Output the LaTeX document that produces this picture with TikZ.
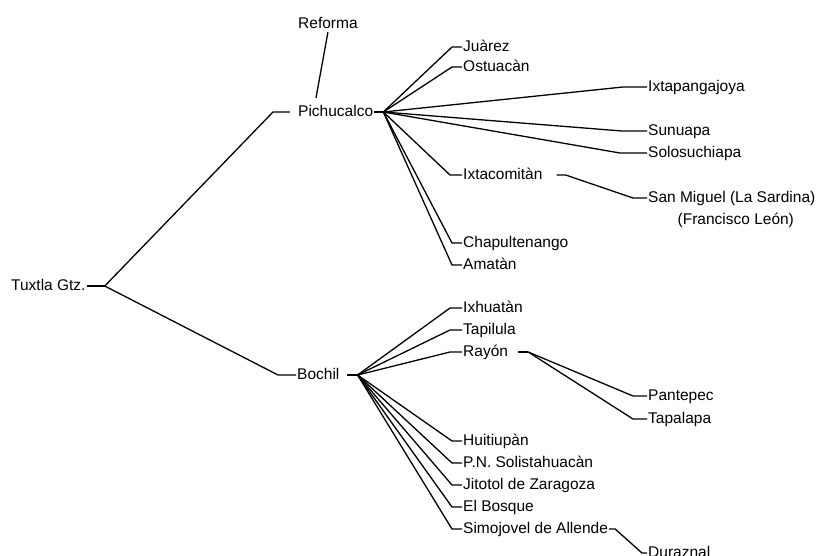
\documentclass[tikz,border=0pt]{standalone}
\usepackage{fontspec}
\setmainfont{Liberation Sans}
\begin{document}
\begin{tikzpicture}[x=1pt,y=-1pt,
  lbl/.style={anchor=west,inner sep=1pt,text height=11pt,text depth=3pt,font=\fontsize{15.5}{18}\selectfont},
  edge/.style={line width=1.3pt,line join=round}]
\useasboundingbox[fill=white] (0,0) rectangle (822,555);
% root
\node[lbl] (tux) at (10,286) {Tuxtla Gtz.};
% level 1
\node[lbl] (pic) at (297,112) {Pichucalco};
\node[lbl] (boc) at (296,375) {Bochil};
\node[lbl] (ref) at (297,24) {Reforma};
% children of Pichucalco
\node[lbl] (jua) at (462,47) {Juàrez};
\node[lbl] (ost) at (462,67) {Ostuacàn};
\node[lbl] (ixp) at (647,87) {Ixtapangajoya};
\node[lbl] (sun) at (647,131) {Sunuapa};
\node[lbl] (sol) at (647,153) {Solosuchiapa};
\node[lbl] (ixc) at (462,175) {Ixtacomitàn};
\node[lbl] (smg) at (647,198) {San Miguel (La Sardina)};
\node[lbl,anchor=north] (smg2) at ([xshift=4pt,yshift=-6pt]smg.south) {(Francisco León)};
\node[lbl] (cha) at (462,243) {Chapultenango};
\node[lbl] (ama) at (462,265) {Amatàn};
% children of Bochil
\node[lbl] (ixh) at (462,308) {Ixhuatàn};
\node[lbl] (tap) at (462,330) {Tapilula};
\node[lbl] (ray) at (462,352) {Rayón};
\node[lbl] (pan) at (647,396) {Pantepec};
\node[lbl] (tpl) at (647,419) {Tapalapa};
\node[lbl] (hui) at (462,441) {Huitiupàn};
\node[lbl] (pns) at (462,463) {P.N. Solistahuacàn};
\node[lbl] (jit) at (462,485) {Jitotol de Zaragoza};
\node[lbl] (elb) at (462,507) {El Bosque};
\node[lbl] (sim) at (462,529) {Simojovel de Allende};
\node[lbl] (dur) at (647,553) {Duraznal};
% fork points
\coordinate (tuxF) at ([xshift=18pt]tux.east);
\coordinate (picF) at ([xshift=9pt]pic.east);
\coordinate (bocF) at ([xshift=17pt]boc.east);
\coordinate (ixcF) at ([xshift=22pt]ixc.east);
\coordinate (rayF) at ([xshift=19pt]ray.east);
\coordinate (simF) at ([xshift=6pt]sim.east);
% root edges
\draw[edge] (tux.east) -- (tuxF);
\draw[edge] (tuxF) -- ([xshift=-24pt]pic.west) -- ([xshift=-7pt]pic.west);
\draw[edge] (tuxF) -- ([xshift=-18pt]boc.west) -- (boc.west);
\draw[edge] (ref.south) -- ([xshift=19pt,yshift=6pt]pic.north west);
% Pichucalco fan
\draw[edge] (pic.east) -- (picF);
\draw[edge] (picF) -- ([xshift=-10pt]jua.west) -- (jua.west);
\draw[edge] (picF) -- ([xshift=-10pt]ost.west) -- (ost.west);
\draw[edge] (picF) -- ([xshift=-24pt]ixp.west) -- (ixp.west);
\draw[edge] (picF) -- ([xshift=-25pt]sun.west) -- (sun.west);
\draw[edge] (picF) -- ([xshift=-27pt]sol.west) -- (sol.west);
\draw[edge] (picF) -- ([xshift=-12pt]ixc.west) -- (ixc.west);
\draw[edge] (picF) -- ([xshift=-10pt]cha.west) -- (cha.west);
\draw[edge] (picF) -- ([xshift=-10pt]ama.west) -- (ama.west);
\draw[edge] ([xshift=13pt]ixc.east) -- (ixcF) -- ([xshift=-14pt]smg.west) -- (smg.west);
% Bochil fan
\draw[edge] ([xshift=6pt]boc.east) -- (bocF);
\draw[edge] (bocF) -- ([xshift=-12pt]ixh.west) -- (ixh.west);
\draw[edge] (bocF) -- ([xshift=-12pt]tap.west) -- (tap.west);
\draw[edge] (bocF) -- ([xshift=-12pt]ray.west) -- (ray.west);
\draw[edge] (bocF) -- ([xshift=-10pt]hui.west) -- (hui.west);
\draw[edge] (bocF) -- ([xshift=-10pt]pns.west) -- (pns.west);
\draw[edge] (bocF) -- ([xshift=-10pt]jit.west) -- (jit.west);
\draw[edge] (bocF) -- ([xshift=-10pt]elb.west) -- (elb.west);
\draw[edge] (bocF) -- ([xshift=-10pt]sim.west) -- (sim.west);
\draw[edge] ([xshift=9pt]ray.east) -- (rayF);
\draw[edge] (rayF) -- ([xshift=-14pt]pan.west) -- (pan.west);
\draw[edge] (rayF) -- ([xshift=-14pt]tpl.west) -- (tpl.west);
\draw[edge] (sim.east) -- (simF) -- ([xshift=-5pt]dur.west) -- (dur.west);
\end{tikzpicture}
\end{document}
